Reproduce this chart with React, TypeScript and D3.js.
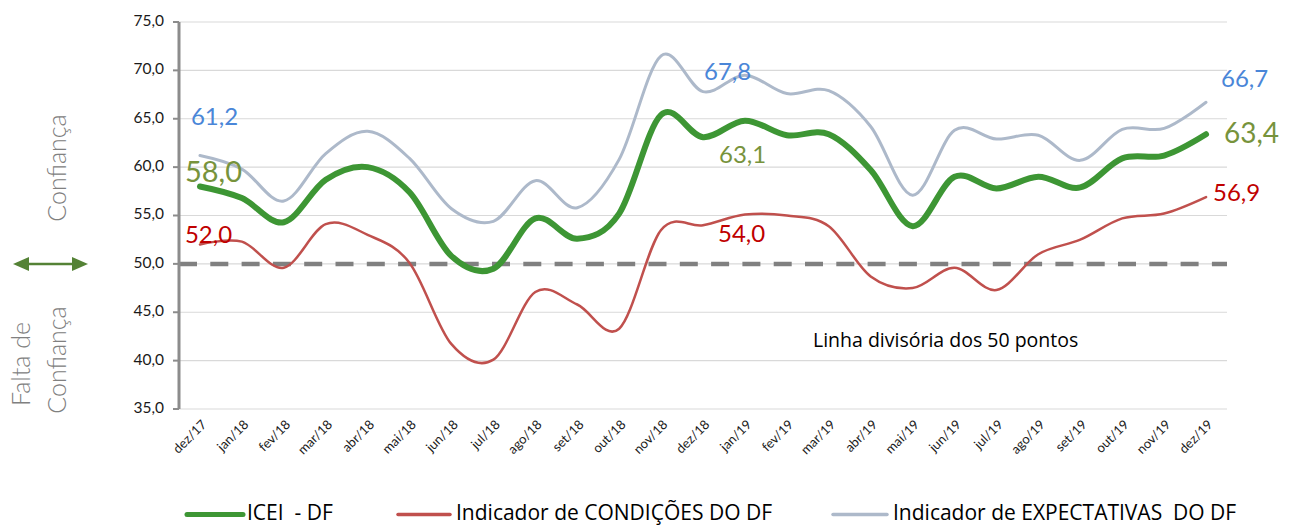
import * as d3 from "d3";

const months = [
  "dez/17", "jan/18", "fev/18", "mar/18", "abr/18", "mai/18", "jun/18", "jul/18",
  "ago/18", "set/18", "out/18", "nov/18", "dez/18", "jan/19", "fev/19", "mar/19",
  "abr/19", "mai/19", "jun/19", "jul/19", "ago/19", "set/19", "out/19", "nov/19", "dez/19",
];
const icei = [58.0, 56.8, 54.3, 58.7, 60.0, 57.4, 50.8, 49.5, 54.7, 52.6, 55.2, 65.4, 63.1,
  64.8, 63.3, 63.4, 59.7, 53.9, 59.0, 57.8, 59.0, 57.9, 60.9, 61.2, 63.4];
const condicoes = [52.0, 52.3, 49.6, 54.1, 53.0, 50.1, 41.7, 40.1, 47.1, 45.8, 43.3, 53.5, 54.0,
  55.1, 55.0, 53.9, 48.7, 47.5, 49.6, 47.3, 51.0, 52.5, 54.7, 55.2, 56.9];
const expectativas = [61.2, 59.8, 56.5, 61.4, 63.7, 60.9, 55.7, 54.4, 58.6, 55.8, 60.8, 71.5, 67.8,
  69.5, 67.6, 67.9, 64.2, 57.1, 63.8, 62.9, 63.3, 60.7, 63.9, 64.0, 66.7];
const yTicks = [35, 40, 45, 50, 55, 60, 65, 70, 75];
const seriesNames = ["ICEI  - DF", "Indicador de CONDIÇÕES DO DF", "Indicador de EXPECTATIVAS  DO DF"];

const W = 1297, H = 526;
const FONT = "Lato, 'Open Sans', sans-serif";
const SANS = "'Open Sans', sans-serif";
const fmt = (v: number) => v.toFixed(1).replace(".", ",");

const App = () => {
  const x = d3.scaleBand().domain(months).range([179, 1227]).padding(0);
  const cx = (m: string) => (x(m) as number) + x.bandwidth() / 2;
  const y = d3.scaleLinear().domain([35, 75]).range([409, 22]);

  const line = d3.line<number>()
    .x((d, i) => cx(months[i]))
    .y((d) => y(d))
    .curve(d3.curveCardinal.tension(0));

  const series = [
    { name: seriesNames[0], data: icei, color: "#3d9634", width: 6, label: "#77933c" },
    { name: seriesNames[1], data: condicoes, color: "#c0504d", width: 2.5, label: "#c00000" },
    { name: seriesNames[2], data: expectativas, color: "#adb9ca", width: 3, label: "#4a86d8" },
  ];

  // data labels: [series index, month index, dx, dy, font size]
  const labels: [number, number, number, number, number][] = [
    [2, 0, -9, -31, 24],
    [0, 0, -15, -4, 29],
    [1, 0, -15, -2, 24],
    [2, 12, 1, -12, 24],
    [0, 12, 16, 26, 24],
    [1, 12, 15, 17, 24],
    [2, 24, 15, -15, 24],
    [0, 24, 18, 9, 28],
    [1, 24, 7, 4, 24],
  ];

  // legend: line start, line end, text start
  const legendPos = [[187, 243, 247], [398, 450, 456], [833, 887, 893]];

  return (
    <div style={{ position: "absolute", left: 0, top: 0 }}>
      <svg width={W} height={H} style={{ display: "block", background: "#fff" }} fontFamily={FONT}>
        {/* gridlines */}
        {yTicks.map((t) => (
          <line key={t} x1={179} x2={1227} y1={y(t)} y2={y(t)} stroke="#d9d9d9" strokeWidth={1.2} />
        ))}
        {/* 50 divider */}
        <line x1={179} x2={1227} y1={y(50)} y2={y(50)} stroke="#808080" strokeWidth={4.5}
          strokeDasharray="18,13.3" />
        {/* y axis */}
        <line x1={179} x2={179} y1={y(75)} y2={y(35)} stroke="#8c8c8c" strokeWidth={3} />
        {yTicks.map((t) => (
          <g key={t}>
            <line x1={173} x2={179} y1={y(t)} y2={y(t)} stroke="#8c8c8c" strokeWidth={2} />
            <text x={164} y={y(t)} textAnchor="end" dominantBaseline="middle" fontSize={15.5} fill="#1a1a1a">
              {fmt(t)}
            </text>
          </g>
        ))}
        {/* x labels */}
        {months.map((m) => (
          <text key={m} transform={`translate(${cx(m) + 5},${y(35) + 14}) rotate(-45)`} textAnchor="end"
            dominantBaseline="middle" fontSize={13} fill="#1a1a1a">
            {m}
          </text>
        ))}
        {/* series */}
        {[2, 1, 0].map((si) => (
          <path key={si} d={line(series[si].data) || ""} fill="none" stroke={series[si].color}
            strokeWidth={series[si].width} strokeLinecap="round" />
        ))}
        {/* data labels */}
        {labels.map(([si, mi, dx, dy, fs], k) => (
          <text key={k} x={cx(months[mi]) + dx} y={y(series[si].data[mi]) + dy} fontSize={fs}
            fill={series[si].label}>
            {fmt(series[si].data[mi])}
          </text>
        ))}
        <text x={813} y={346.5} fontSize={19.5} fill="#000" fontFamily={SANS}>
          Linha divisória dos 50 pontos
        </text>
        {/* left annotations */}
        <text transform="translate(66,168) rotate(-90)" textAnchor="middle" fontSize={25} fill="#808080"
          fontWeight={300}>Confiança</text>
        <text transform="translate(30,364) rotate(-90)" textAnchor="middle" fontSize={25} fill="#808080"
          fontWeight={300}>Falta de</text>
        <text transform="translate(66,360) rotate(-90)" textAnchor="middle" fontSize={25} fill="#808080"
          fontWeight={300}>Confiança</text>
        <g>
          <line x1={24} x2={78} y1={y(50)} y2={y(50)} stroke="#548235" strokeWidth={2.5} />
          <path d={`M13,${y(50)} L29,${y(50) - 7} L29,${y(50) + 7} Z`} fill="#548235" />
          <path d={`M88,${y(50)} L72,${y(50) - 7} L72,${y(50) + 7} Z`} fill="#548235" />
        </g>
        {/* legend */}
        {series.map((s, i) => {
          const [l0, l1, tx] = legendPos[i];
          return (
            <g key={s.name}>
              <line x1={l0} x2={l1} y1={514.5} y2={514.5} stroke={s.color} strokeWidth={i === 0 ? 5 : 3.5}
                strokeLinecap="round" />
              <text x={tx} y={514.5} dominantBaseline="middle" fontSize={21} fill="#000" fontFamily={SANS}
                style={{ whiteSpace: "pre" }}>{s.name}</text>
            </g>
          );
        })}
      </svg>
    </div>
  );
};

export default App;
